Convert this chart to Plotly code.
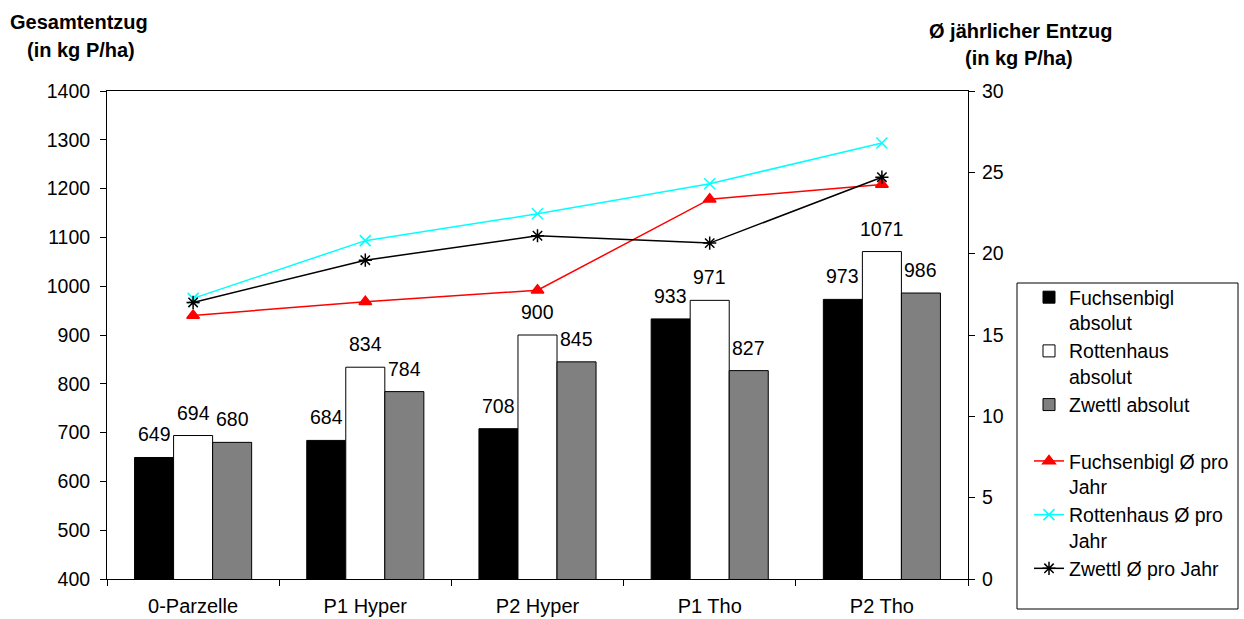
import plotly.graph_objects as go

# Categories (plots / treatments)
categories = ["0-Parzelle", "P1 Hyper", "P2 Hyper", "P1 Tho", "P2 Tho"]

# Total P removal (kg P/ha), left axis
fuchsenbigl_abs = [649, 684, 708, 933, 973]
rottenhaus_abs = [694, 834, 900, 971, 1071]
zwettl_abs = [680, 784, 845, 827, 986]

# Mean annual P removal (kg P/ha), right axis
fuchsenbigl_avg = [16.2, 17.05, 17.75, 23.35, 24.25]
rottenhaus_avg = [17.25, 20.8, 22.45, 24.3, 26.8]
zwettl_avg = [17.0, 19.6, 21.1, 20.65, 24.7]

FONT = "Arial, Liberation Sans, sans-serif"
W, H = 1244, 619
L, R, T, B = 107, 276, 91, 40
PW, PH = W - L - R, H - T - B


def px(xp):
    return (xp - L) / PW


def py(yp):
    return (H - B - yp) / PH


BARGAP = 0.32
bar_w = (1 - BARGAP) / 3

fig = go.Figure()

bar_series = [
    ("Fuchsenbigl<br>absolut", fuchsenbigl_abs, "#000000"),
    ("Rottenhaus<br>absolut", rottenhaus_abs, "#FFFFFF"),
    ("Zwettl absolut", zwettl_abs, "#808080"),
]
for name, vals, col in bar_series:
    fig.add_trace(go.Bar(
        x=categories, y=vals, name=name, legendgroup="abs",
        marker=dict(color=col, line=dict(color="#000000", width=1)),
        yaxis="y",
    ))

line_series = [
    ("Fuchsenbigl Ø pro<br>Jahr", fuchsenbigl_avg, "#FF0000", "triangle-up", 11),
    ("Rottenhaus Ø pro<br>Jahr", rottenhaus_avg, "#00FFFF", "x-thin-open", 11),
    ("Zwettl Ø pro Jahr", zwettl_avg, "#000000", "asterisk-open", 11),
]
for name, vals, col, sym, size in line_series:
    fig.add_trace(go.Scatter(
        x=categories, y=vals, name=name, legendgroup="avg",
        mode="lines+markers", yaxis="y2",
        line=dict(color=col, width=1.5),
        marker=dict(symbol=sym, size=size, color=col, line=dict(color=col, width=1.5)),
    ))

annotations = []
# value labels above the bars
for j, (_, vals, _) in enumerate(bar_series):
    off = (j - 1) * bar_w
    for i, v in enumerate(vals):
        annotations.append(dict(
            x=i + off, y=v, xref="x", yref="y", text=str(v),
            showarrow=False, yanchor="bottom", xanchor="center", yshift=10,
            font=dict(family=FONT, size=19.5, color="#000000"),
        ))

# axis titles
title_font = dict(family=FONT, size=20, color="#000000")
for text, xp, yp in [
    ("<b>Gesamtentzug</b>", 79, 22),
    ("<b>(in kg P/ha)</b>", 81, 50),
    ("<b>Ø jährlicher Entzug</b>", 1020, 31),
    ("<b>(in kg P/ha)</b>", 1019, 58),
]:
    annotations.append(dict(
        x=px(xp), y=py(yp), xref="paper", yref="paper", text=text,
        showarrow=False, xanchor="center", yanchor="middle", font=title_font,
    ))

tick_font = dict(family=FONT, size=19.5, color="#000000")

fig.update_layout(
    width=W, height=H,
    margin=dict(l=L, r=R, t=T, b=B, autoexpand=False),
    paper_bgcolor="#FFFFFF", plot_bgcolor="#FFFFFF",
    barmode="group", bargap=BARGAP, bargroupgap=0,
    font=dict(family=FONT, size=19.5, color="#000000"),
    showlegend=True,
    legend=dict(
        x=px(1029), y=py(278), xanchor="left", yanchor="top",
        bgcolor="rgba(0,0,0,0)", borderwidth=0,
        font=dict(family=FONT, size=19.5, color="#000000"),
        valign="top", tracegroupgap=28, traceorder="grouped",
    ),
    xaxis=dict(
        type="category", showline=True, linecolor="#000000", linewidth=1,
        mirror=True, ticks="outside", tickson="boundaries", ticklen=6,
        tickcolor="#000000", showgrid=False, zeroline=False,
        tickfont=dict(family=FONT, size=20, color="#000000"),
        ticklabelstandoff=9, automargin=False,
    ),
    yaxis=dict(
        range=[400, 1400], dtick=100, showline=True, linecolor="#000000",
        linewidth=1, ticks="outside", ticklen=6, tickcolor="#000000",
        showgrid=False, zeroline=False, tickfont=tick_font,
        ticklabelstandoff=6, automargin=False,
    ),
    yaxis2=dict(
        range=[0, 30], dtick=5, overlaying="y", side="right",
        showline=True, linecolor="#000000", linewidth=1,
        ticks="outside", ticklen=6, tickcolor="#000000",
        showgrid=False, zeroline=False, tickfont=tick_font,
        ticklabelstandoff=3, automargin=False,
    ),
    annotations=annotations,
    shapes=[dict(
        type="rect", xref="paper", yref="paper",
        x0=px(1017), x1=px(1238), y0=py(609), y1=py(283),
        line=dict(color="#000000", width=1), fillcolor="rgba(0,0,0,0)",
    )],
)

fig.write_html("out.html")
